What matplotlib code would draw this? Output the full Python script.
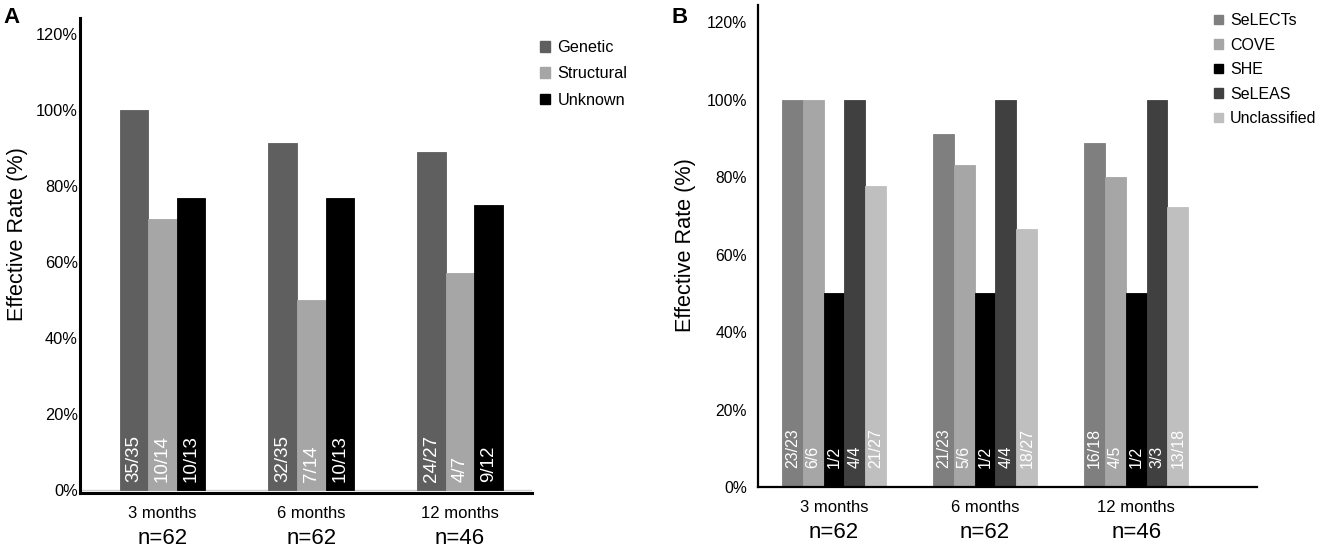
import numpy as np
import matplotlib
matplotlib.use('Agg')
import matplotlib.pyplot as plt
from matplotlib.patches import Patch

plt.rcParams['font.family'] = ['Liberation Sans', 'DejaVu Sans']

# Data
periods = ['3 months', '6 months', '12 months']
n_labels = ['n=62', 'n=62', 'n=46']

a_series = ['Genetic', 'Structural', 'Unknown']
a_values = [
    [100.0, 91.4, 88.9],
    [71.4, 50.0, 57.1],
    [76.9, 76.9, 75.0],
]
a_counts = [
    ['35/35', '32/35', '24/27'],
    ['10/14', '7/14', '4/7'],
    ['10/13', '10/13', '9/12'],
]
a_colors = ['#5f5f5f', '#a6a6a6', '#000000']

b_series = ['SeLECTs', 'COVE', 'SHE', 'SeLEAS', 'Unclassified']
b_values = [
    [100.0, 91.3, 88.9],
    [100.0, 83.3, 80.0],
    [50.0, 50.0, 50.0],
    [100.0, 100.0, 100.0],
    [77.8, 66.7, 72.2],
]
b_counts = [
    ['23/23', '21/23', '16/18'],
    ['6/6', '5/6', '4/5'],
    ['1/2', '1/2', '1/2'],
    ['4/4', '4/4', '3/3'],
    ['21/27', '18/27', '13/18'],
]
b_colors = ['#7f7f7f', '#a6a6a6', '#000000', '#404040', '#bfbfbf']

yticks = [0, 20, 40, 60, 80, 100, 120]

W, H = 1325, 551
fig = plt.figure(figsize=(W / 100, H / 100), dpi=100)


def px_axes(left, right, top, bottom):
    return fig.add_axes([left / W, 1 - bottom / H, (right - left) / W, (bottom - top) / H])


def draw_panel(ax, values, counts, colors, names, width, tick_fs, count_fs, count_y,
               spine_lw, pad):
    x = np.arange(len(periods))
    k = len(values)
    for i in range(k):
        offs = (i - (k - 1) / 2) * width
        ax.bar(x + offs, values[i], width=width, color=colors[i],
               edgecolor=colors[i], linewidth=0.6, label=names[i], zorder=2)
        for j in range(len(periods)):
            ax.text(x[j] + offs, count_y, counts[i][j], rotation=90,
                    ha='center', va='bottom', color='white',
                    fontsize=count_fs, zorder=3)
    ax.set_yticks(yticks)
    ax.set_yticklabels([f'{t}%' for t in yticks], fontsize=tick_fs)
    ax.tick_params(axis='y', length=0, pad=pad)
    ax.set_xticks([])
    for s in ['top', 'right']:
        ax.spines[s].set_visible(False)
    ax.spines['left'].set_linewidth(spine_lw)
    ax.spines['bottom'].set_linewidth(spine_lw)
    for j in range(len(periods)):
        ax.annotate(periods[j], xy=(x[j], 0), xycoords=('data', 'axes fraction'),
                    xytext=(0, -20), textcoords='offset pixels',
                    ha='center', va='center', fontsize=12)
        ax.annotate(n_labels[j], xy=(x[j], 0), xycoords=('data', 'axes fraction'),
                    xytext=(0, -45), textcoords='offset pixels',
                    ha='center', va='center', fontsize=16)


# Panel A
axA = px_axes(80, 532, 18, 493)
draw_panel(axA, a_values, a_counts, a_colors, a_series, 0.192, 11.8, 13.5, 2.0, 2.2, 1.5)
axA.set_xlim(-0.555, 2.484)
axA.set_ylim(-0.8, 124.2)
axA.axhline(0, color='#d0d0d0', linewidth=1, zorder=1)
hA = [Patch(facecolor=c, edgecolor=c) for c in a_colors]
axA.legend(hA, a_series, loc='upper left', bbox_to_anchor=(540 / W, 1 - 40 / H),
           bbox_transform=fig.transFigure, frameon=False, fontsize=11.7,
           handlelength=0.62, handleheight=0.62, handletextpad=0.45,
           labelspacing=0.7, borderpad=0, borderaxespad=0)
fig.text(18 / W, 1 - 234 / H, 'Effective Rate (%)', rotation=90, ha='center',
         va='center', fontsize=15.6)
fig.text(3 / W, 1 - 7 / H, 'A', fontsize=16, fontweight='bold', ha='left', va='top')

# Panel B
axB = px_axes(758, 1257, 5, 487)
draw_panel(axB, b_values, b_counts, b_colors, b_series, 0.138, 11.3, 11.5, 5.0, 1.6, 8)
axB.set_xlim(-0.503, 2.80)
axB.set_ylim(0, 124.5)
hB = [Patch(facecolor=c, edgecolor=c) for c in b_colors]
axB.legend(hB, b_series, loc='upper left', bbox_to_anchor=(1214 / W, 1 - 13 / H),
           bbox_transform=fig.transFigure, frameon=False, fontsize=11.5,
           handlelength=0.55, handleheight=0.55, handletextpad=0.45,
           labelspacing=0.6, borderpad=0, borderaxespad=0)
fig.text(685 / W, 1 - 245 / H, 'Effective Rate (%)', rotation=90, ha='center',
         va='center', fontsize=15.6)
fig.text(672 / W, 1 - 7 / H, 'B', fontsize=16, fontweight='bold', ha='left', va='top')

fig.savefig('out.png', dpi=100, facecolor='white')
